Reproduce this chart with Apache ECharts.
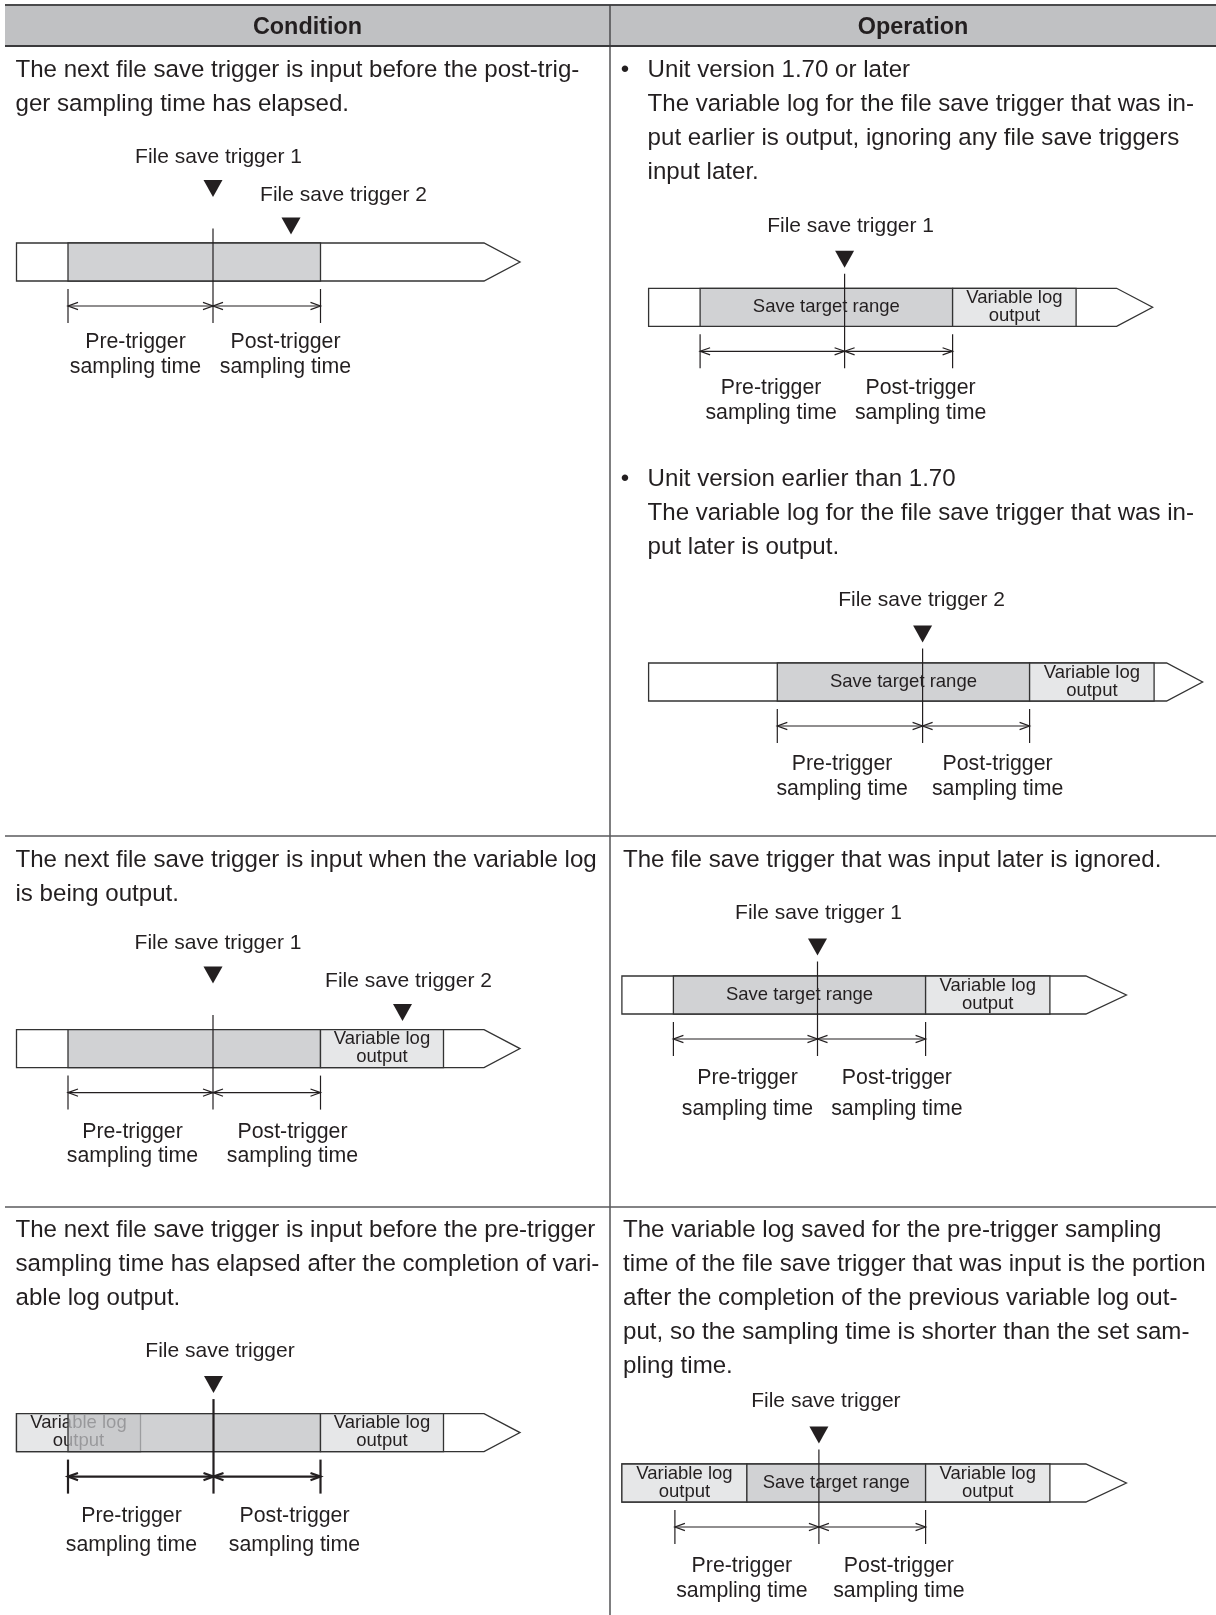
<!DOCTYPE html>
<html>
<head>
<meta charset="utf-8">
<script src="https://cdn.jsdelivr.net/npm/echarts@6/dist/echarts.min.js"></script>
<style>
html,body{margin:0;padding:0;background:#ffffff;}
#chart{width:1216px;height:1615px;}
</style>
</head>
<body>
<div id="chart"></div>
<script>
// ================= DATA =================
const headers = ['Condition', 'Operation'];

const conditionRow1 = ['The next file save trigger is input before the post-trig-', 'ger sampling time has elapsed.'];
const operationRow1a = ['Unit version 1.70 or later', 'The variable log for the file save trigger that was in-', 'put earlier is output, ignoring any file save triggers', 'input later.'];
const operationRow1b = ['Unit version earlier than 1.70', 'The variable log for the file save trigger that was in-', 'put later is output.'];
const conditionRow2 = ['The next file save trigger is input when the variable log', 'is being output.'];
const operationRow2 = ['The file save trigger that was input later is ignored.'];
const conditionRow3 = ['The next file save trigger is input before the pre-trigger', 'sampling time has elapsed after the completion of vari-', 'able log output.'];
const operationRow3 = ['The variable log saved for the pre-trigger sampling', 'time of the file save trigger that was input is the portion', 'after the completion of the previous variable log out-', 'put, so the sampling time is shorter than the set sam-', 'pling time.'];

const spanTexts = ['Pre-trigger\nsampling time', 'Post-trigger\nsampling time'];
const saveLabel = 'Save target range';
const vloLabel = 'Variable log\noutput';

// Timelines: values in time units along each bar (0 = left end of the bar)
// bar: [end of bar body, arrow tip]
// segments: [start, end, kind, label]
// triggers: [time, label, tier, label position, has guide line]
// spans: [pre-trigger start, trigger, post-trigger end]
// spanLabelAt: [pre label centre, post label centre]
const d1Bar = [46.75, 50.35];
const d1Segments = [[5.15, 30.4, 'save', '']];
const d1Triggers = [[19.65, 'File save trigger 1', 'high', 20.2, 1], [27.45, 'File save trigger 2', 'low', 32.7, 0]];
const d1Spans = [5.15, 19.65, 30.4];
const d1SpanLabelAt = [11.9, 26.9];

const d2Bar = [46.8, 50.4];
const d2Segments = [[5.15, 30.4, 'save', saveLabel], [30.4, 42.75, 'vlo', vloLabel]];
const d2Triggers = [[19.6, 'File save trigger 1', 'single', 20.2, 1]];
const d2Spans = [5.15, 19.6, 30.4];
const d2SpanLabelAt = [12.25, 27.2];

const d3Bar = [51.8, 55.4];
const d3Segments = [[12.87, 38.1, 'save', saveLabel], [38.1, 50.55, 'vlo', vloLabel]];
const d3Triggers = [[27.4, 'File save trigger 2', 'single', 27.3, 1]];
const d3Spans = [12.87, 27.4, 38.1];
const d3SpanLabelAt = [19.35, 34.9];

const d4Bar = [46.75, 50.35];
const d4Segments = [[5.15, 30.4, 'save', ''], [30.4, 42.7, 'vlo', vloLabel]];
const d4Triggers = [[19.65, 'File save trigger 1', 'high', 20.15, 1], [38.6, 'File save trigger 2', 'low', 39.2, 0]];
const d4Spans = [5.15, 19.65, 30.4];
const d4SpanLabelAt = [11.6, 27.6];

const d5Bar = [46.4, 50.45];
const d5Segments = [[5.15, 30.37, 'save', saveLabel], [30.37, 42.8, 'vlo', vloLabel]];
const d5Triggers = [[19.56, 'File save trigger 1', 'single', 19.66, 1]];
const d5Spans = [5.15, 19.56, 30.37];
const d5SpanLabelAt = [12.56, 27.5];

const d6Bar = [46.75, 50.35];
const d6Segments = [[0, 12.4, 'vlo', vloLabel], [5.15, 30.4, 'overlay', ''], [30.4, 42.7, 'vlo', vloLabel]];
const d6Triggers = [[19.7, 'File save trigger', 'single', 20.35, 1]];
const d6Spans = [5.15, 19.7, 30.4];
const d6SpanLabelAt = [11.5, 27.8];

const d7Bar = [46.4, 50.45];
const d7Segments = [[0, 12.5, 'vlo', vloLabel], [12.5, 30.37, 'save', saveLabel], [30.37, 42.8, 'vlo', vloLabel]];
const d7Triggers = [[19.7, 'File save trigger', 'single', 20.4, 1]];
const d7Spans = [5.3, 19.7, 30.37];
const d7SpanLabelAt = [12.0, 27.7];

// ================= LAYOUT / STYLE =================
const FONT = '"Liberation Sans", Arial, Helvetica, sans-serif';
const INK = '#231f20';
const BORDER = '#333333';
const SEG_FILL = {save: '#d1d2d4', vlo: '#e6e7e8', overlay: 'rgba(192,193,196,0.75)'};
const PX_PER_UNIT = 10;
const AXIS_MAX = 56;
const BAR_H = 38;
const BODY_SIZE = 24.1;
const LINE_STEP = 34;
const TIER = {high: {label: -86, tri: -46}, low: {label: -48, tri: -8.5}, single: {label: -62.5, tri: -20.5}};
const LINE_TOP = -14.5, TICK_TOP = 46, TICK_BOTTOM = 80, ARROW_Y = 63;

const diagramLayout = [
  {left: 16.5, top: 243, rows: [99, 124], lw: 1.2},
  {left: 648.6, top: 288.3, rows: [99.5, 124.5], lw: 1.2},
  {left: 648.6, top: 663, rows: [101.5, 126], lw: 1.2},
  {left: 16.5, top: 1029.6, rows: [102.5, 127], lw: 1.2},
  {left: 621.9, top: 976, rows: [102, 133], lw: 1.2},
  {left: 16.5, top: 1413.6, rows: [103, 132], lw: 2.2},
  {left: 621.9, top: 1464, rows: [102, 127], lw: 1.2}
];

const diagrams = [
  {bar: d1Bar, segs: d1Segments, trigs: d1Triggers, spans: d1Spans, spanAt: d1SpanLabelAt},
  {bar: d2Bar, segs: d2Segments, trigs: d2Triggers, spans: d2Spans, spanAt: d2SpanLabelAt},
  {bar: d3Bar, segs: d3Segments, trigs: d3Triggers, spans: d3Spans, spanAt: d3SpanLabelAt},
  {bar: d4Bar, segs: d4Segments, trigs: d4Triggers, spans: d4Spans, spanAt: d4SpanLabelAt},
  {bar: d5Bar, segs: d5Segments, trigs: d5Triggers, spans: d5Spans, spanAt: d5SpanLabelAt},
  {bar: d6Bar, segs: d6Segments, trigs: d6Triggers, spans: d6Spans, spanAt: d6SpanLabelAt},
  {bar: d7Bar, segs: d7Segments, trigs: d7Triggers, spans: d7Spans, spanAt: d7SpanLabelAt}
];

const textLayout = [
  {lines: conditionRow1, x: 15.5, y: 70.5},
  {lines: operationRow1a, x: 647.6, y: 70.5, bullet: 625},
  {lines: operationRow1b, x: 647.6, y: 479.5, bullet: 625},
  {lines: conditionRow2, x: 15.5, y: 860.7},
  {lines: operationRow2, x: 623, y: 860.7},
  {lines: conditionRow3, x: 15.5, y: 1230.3},
  {lines: operationRow3, x: 623, y: 1230.3}
];

function txtStyle(o) {
  const s = Object.assign({fontFamily: FONT, fill: INK}, o);
  s.textAlign = s.align; s.textVerticalAlign = s.verticalAlign;
  return s;
}

// ================= GRAPHIC (table + paragraphs) =================
const graphics = [];
graphics.push({type: 'rect', silent: true, shape: {x: 5, y: 5, width: 1211, height: 41}, style: {fill: '#c0c1c3'}});
graphics.push({type: 'line', silent: true, shape: {x1: 5, y1: 5, x2: 1216, y2: 5}, style: {stroke: '#4a4a4c', lineWidth: 2}});
graphics.push({type: 'line', silent: true, shape: {x1: 5, y1: 46, x2: 1216, y2: 46}, style: {stroke: '#3a3a3c', lineWidth: 2}});
graphics.push({type: 'line', silent: true, shape: {x1: 610, y1: 5, x2: 610, y2: 1615}, style: {stroke: '#3a3a3c', lineWidth: 1.3}});
[836, 1207].forEach(function (y) {
  graphics.push({type: 'line', silent: true, shape: {x1: 5, y1: y, x2: 1216, y2: y}, style: {stroke: '#5a5a5c', lineWidth: 1.3}});
});
[[headers[0], 307.5], [headers[1], 913]].forEach(function (h) {
  graphics.push({type: 'text', silent: true, style: txtStyle({text: h[0], x: h[1], y: 28, align: 'center', verticalAlign: 'middle', fontSize: 23.4, fontWeight: 'bold'})});
});
textLayout.forEach(function (blk) {
  if (blk.bullet) {
    graphics.push({type: 'text', silent: true, style: txtStyle({text: '\u2022', x: blk.bullet, y: blk.y, align: 'center', verticalAlign: 'middle', fontSize: BODY_SIZE})});
  }
  blk.lines.forEach(function (line, i) {
    graphics.push({type: 'text', silent: true, style: txtStyle({text: line, x: blk.x, y: blk.y + i * LINE_STEP, align: 'left', verticalAlign: 'middle', fontSize: BODY_SIZE})});
  });
});

// ================= DIAGRAM SERIES =================
function chevron(x, y, dir, lw) {
  return {type: 'polyline', shape: {points: [[x - dir * 10, y - 3.6], [x, y], [x - dir * 10, y + 3.6]]}, style: {stroke: INK, lineWidth: lw, fill: null}};
}

function makeRender(meta, L) {
  return function (params, api) {
    const m = meta[params.dataIndex];
    const top = api.coord([0, 1])[1];
    const bot = api.coord([0, 0])[1];
    const mid = (top + bot) / 2;
    const X = function (v) { return api.coord([v, 0])[0]; };
    if (m.kind === 'bar') {
      const x0 = X(api.value(0)), xb = X(api.value(1)), xt = X(api.value(2));
      return {type: 'polygon', shape: {points: [[x0, top], [xb, top], [xt, mid], [xb, bot], [x0, bot]]}, style: {fill: '#ffffff', stroke: BORDER, lineWidth: 1.3}};
    }
    if (m.kind === 'save' || m.kind === 'vlo' || m.kind === 'overlay') {
      const xa = X(api.value(0)), xb = X(api.value(1));
      const ch = [{type: 'rect', shape: {x: xa, y: top, width: xb - xa, height: bot - top}, style: {fill: SEG_FILL[m.kind], stroke: BORDER, lineWidth: 1.3}}];
      if (m.label) {
        ch.push({type: 'text', style: txtStyle({text: m.label, x: (xa + xb) / 2, y: mid - 0.5, align: 'center', verticalAlign: 'middle', fontSize: 18.5, lineHeight: 18})});
      }
      return {type: 'group', children: ch};
    }
    if (m.kind === 'trigger') {
      const xt = X(api.value(0)), xl = X(api.value(1));
      const tier = TIER[m.tier];
      const tb = top + tier.tri;
      const ch = [];
      if (m.line) {
        ch.push({type: 'line', shape: {x1: xt, y1: top + LINE_TOP, x2: xt, y2: top + TICK_BOTTOM}, style: {stroke: INK, lineWidth: L.lw}});
      }
      ch.push({type: 'polygon', shape: {points: [[xt - 9.5, tb - 17], [xt + 9.5, tb - 17], [xt, tb]]}, style: {fill: INK}});
      ch.push({type: 'text', style: txtStyle({text: m.label, x: xl, y: top + tier.label, align: 'center', verticalAlign: 'middle', fontSize: 21})});
      return {type: 'group', children: ch};
    }
    if (m.kind === 'span') {
      const a = X(api.value(0)), t = X(api.value(1)), b = X(api.value(2));
      const ay = top + ARROW_Y;
      const lw = L.lw;
      const ch = [
        {type: 'line', shape: {x1: a, y1: top + TICK_TOP, x2: a, y2: top + TICK_BOTTOM}, style: {stroke: INK, lineWidth: lw}},
        {type: 'line', shape: {x1: b, y1: top + TICK_TOP, x2: b, y2: top + TICK_BOTTOM}, style: {stroke: INK, lineWidth: lw}},
        {type: 'line', shape: {x1: a, y1: ay, x2: b, y2: ay}, style: {stroke: INK, lineWidth: lw}},
        chevron(a, ay, -1, lw), chevron(t, ay, 1, lw), chevron(t, ay, -1, lw), chevron(b, ay, 1, lw)
      ];
      return {type: 'group', children: ch};
    }
    if (m.kind === 'spanLabel') {
      const xp = X(api.value(0)), xq = X(api.value(1));
      const ch = [];
      [[xp, 0], [xq, 1]].forEach(function (p) {
        const parts = spanTexts[p[1]].split('\n');
        ch.push({type: 'text', style: txtStyle({text: parts[0], x: p[0], y: top + L.rows[0], align: 'center', verticalAlign: 'middle', fontSize: 21.3})});
        ch.push({type: 'text', style: txtStyle({text: parts[1], x: p[0], y: top + L.rows[1], align: 'center', verticalAlign: 'middle', fontSize: 21.3})});
      });
      return {type: 'group', children: ch};
    }
    return null;
  };
}

const grids = [], xAxes = [], yAxes = [], series = [];
diagrams.forEach(function (d, i) {
  const L = diagramLayout[i];
  grids.push({left: L.left, top: L.top, width: AXIS_MAX * PX_PER_UNIT, height: BAR_H, show: false, containLabel: false, outerBoundsMode: 'none'});
  xAxes.push({gridIndex: i, type: 'value', min: 0, max: AXIS_MAX, show: false});
  yAxes.push({gridIndex: i, type: 'value', min: 0, max: 1, show: false});
  const data = [], meta = [];
  data.push([0, d.bar[0], d.bar[1]]); meta.push({kind: 'bar'});
  d.segs.forEach(function (s) { data.push([s[0], s[1], 0]); meta.push({kind: s[2], label: s[3]}); });
  d.trigs.forEach(function (t) { data.push([t[0], t[3], 0]); meta.push({kind: 'trigger', label: t[1], tier: t[2], line: t[4]}); });
  data.push([d.spans[0], d.spans[1], d.spans[2]]); meta.push({kind: 'span'});
  data.push([d.spanAt[0], d.spanAt[1], 0]); meta.push({kind: 'spanLabel'});
  series.push({
    type: 'custom', xAxisIndex: i, yAxisIndex: i, clip: false, silent: true, animation: false,
    dimensions: ['a', 'b', 'c'], encode: {x: ['a', 'b', 'c']},
    data: data, renderItem: makeRender(meta, L)
  });
});

const chart = echarts.init(document.getElementById('chart'), null, {renderer: 'canvas', width: 1216, height: 1615});
chart.setOption({
  backgroundColor: '#ffffff',
  animation: false,
  tooltip: {show: false},
  grid: grids,
  xAxis: xAxes,
  yAxis: yAxes,
  graphic: {elements: graphics},
  series: series
});
</script>
</body>
</html>
